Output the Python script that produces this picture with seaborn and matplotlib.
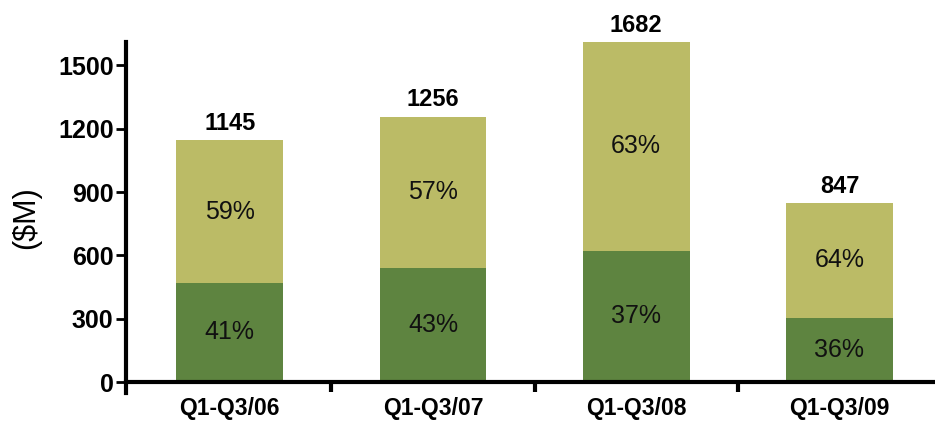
import matplotlib
matplotlib.use("Agg")
import matplotlib.pyplot as plt
import seaborn as sns
import pandas as pd
import numpy as np

categories = ["Q1-Q3/06", "Q1-Q3/07", "Q1-Q3/08", "Q1-Q3/09"]
totals = [1145, 1256, 1682, 847]
bottom_pct = [41, 43, 37, 36]
top_pct = [59, 57, 63, 64]
yticks = [0, 300, 600, 900, 1200, 1500]

dark = "#5E8440"
light = "#BBBB66"

sns.set_theme(style="white")
plt.rcParams["font.family"] = ["Liberation Sans", "DejaVu Sans"]
plt.rcParams["text.color"] = "black"
plt.rcParams["xtick.color"] = "black"
plt.rcParams["ytick.color"] = "black"
plt.rcParams["axes.labelcolor"] = "black"

df = pd.DataFrame({
    "cat": categories,
    "total": totals,
    "bottom": [t * p / 100 for t, p in zip(totals, bottom_pct)],
})

fig = plt.figure(figsize=(9.35, 4.21), dpi=100)
ax = fig.add_axes([0.1348, 0.0665, 0.8652, 0.8335])

sns.barplot(data=df, x="cat", y="total", color=light, width=0.525,
            saturation=1, ax=ax, linewidth=0)
sns.barplot(data=df, x="cat", y="bottom", color=dark, width=0.525,
            saturation=1, ax=ax, linewidth=0)

ymax = 1610
ax.set_ylim(-52, ymax)
ax.set_xlim(-0.51, 3.47)

for s in ["top", "right"]:
    ax.spines[s].set_visible(False)
ax.spines["bottom"].set_position(("data", 0))
ax.spines["bottom"].set_linewidth(3)
ax.spines["left"].set_linewidth(3)
ax.spines["bottom"].set_color("black")
ax.spines["left"].set_color("black")

ax.set_yticks(yticks)
ax.set_yticklabels([str(v) for v in yticks], fontsize=18, fontweight="bold")
ax.tick_params(axis="y", direction="out", length=7, width=2, pad=2, left=True)

ax.set_xticks(range(len(categories)))
ax.set_xticklabels(categories, fontsize=16.5, fontweight="bold")
ax.tick_params(axis="x", which="major", length=0, pad=11)
ax.set_xticks([0.5, 1.5, 2.5], minor=True)
ax.tick_params(axis="x", which="minor", direction="out", length=7, width=3,
               bottom=True)

ax.set_xlabel("")
ax.set_ylabel("($M)", fontsize=22, labelpad=12)

for i, (t, b, bp, tp) in enumerate(zip(totals, df["bottom"], bottom_pct, top_pct)):
    shown_top = min(t, ymax)
    ax.annotate(str(t), (i, shown_top), xytext=(0, 4), textcoords="offset points",
                ha="center", va="bottom", fontsize=17, fontweight="bold")
    ax.text(i, b / 2, f"{bp}%", ha="center", va="center", fontsize=18, color="#111111")
    ax.text(i, (b + shown_top) / 2, f"{tp}%", ha="center", va="center", fontsize=18,
            color="#111111")

fig.savefig("out.png", dpi=100)
